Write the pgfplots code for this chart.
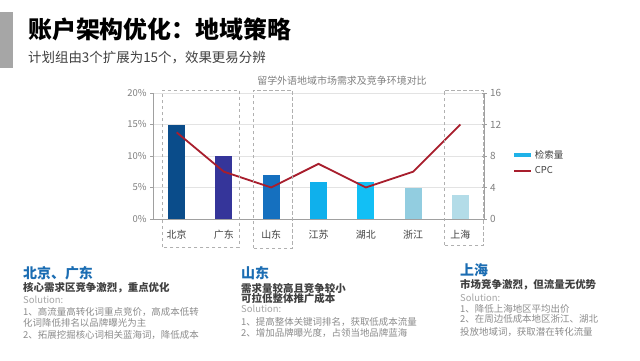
\documentclass[border=0pt]{standalone}
\usepackage{fontspec}
\setmainfont{Noto Sans CJK SC}
\usepackage{pgfplots}
\pgfplotsset{compat=1.18}
\definecolor{c1}{HTML}{0A4C8A}
\definecolor{c2}{HTML}{35359A}
\definecolor{c3}{HTML}{1570BF}
\definecolor{c4}{HTML}{0FB0EC}
\definecolor{c5}{HTML}{12BFF5}
\definecolor{c6}{HTML}{92CDE0}
\definecolor{c7}{HTML}{B3DCE8}
\definecolor{legblue}{HTML}{1FB2E8}
\definecolor{cpc}{HTML}{A81E2D}
\definecolor{hdgray}{HTML}{A6A6A6}
\definecolor{headblue}{HTML}{1B6DB3}
\definecolor{txtdark}{HTML}{404040}
\definecolor{txtgray}{HTML}{8C8C8C}
\definecolor{txtlight}{HTML}{A5A5A5}
\definecolor{axgray}{HTML}{A0A0A0}
\definecolor{boxgray}{HTML}{B0B0B0}
\begin{document}
\begin{tikzpicture}[x=1bp,y=1bp]
\path[use as bounding box, fill=white] (0,0) rectangle (640,360);
% header
\fill[hdgray] (0,292) rectangle (13,348);
\node[anchor=west, inner sep=0] at (28,331) {\fontsize{24}{24}\selectfont\bfseries 账户架构优化：地域策略};
\node[anchor=west, inner sep=0, text=txtdark] at (28,302) {\fontsize{13.5}{14}\selectfont 计划组由3个扩展为15个，效果更易分辨};
% chart title
\node[inner sep=0, text=gray] at (342,279) {\fontsize{10}{10}\selectfont 留学外语地域市场需求及竞争环境对比};

\begin{axis}[
  at={(153bp,141bp)}, anchor=south west, scale only axis,
  width=331bp, height=126bp,
  xmin=-0.5, xmax=6.5, ymin=0, ymax=20,
  axis x line*=bottom, axis y line*=left,
  axis line style={draw=axgray, line width=0.6bp},
  xtick={0,...,6}, xticklabels={北京,广东,山东,江苏,湖北,浙江,上海},
  x tick style={draw=none},
  ytick={0,5,10,15,20}, yticklabels={0\%,5\%,10\%,15\%,20\%},
  y tick style={draw=axgray, line width=0.6bp}, major tick length=3bp,
  tick align=outside,
  ymajorgrids, grid style={draw=gray!22, line width=0.5bp},
  yticklabel style={font=\fontsize{9.5}{10}\selectfont, text=gray},
  xticklabel style={font=\fontsize{10}{10}\selectfont, text=txtdark, yshift=-5bp},
  ybar, bar width=17bp, bar shift=0pt,
  /pgf/number format/assume math mode=true,
  clip=false,
]
\addplot[fill=c1, draw=none] coordinates {(0,14.9)};
\addplot[fill=c2, draw=none] coordinates {(1,10.0)};
\addplot[fill=c3, draw=none] coordinates {(2,7.0)};
\addplot[fill=c4, draw=none] coordinates {(3,5.8)};
\addplot[fill=c5, draw=none] coordinates {(4,5.8)};
\addplot[fill=c6, draw=none] coordinates {(5,4.9)};
\addplot[fill=c7, draw=none] coordinates {(6,3.8)};
\end{axis}

\begin{axis}[
  at={(153bp,141bp)}, anchor=south west, scale only axis,
  width=331bp, height=126bp,
  xmin=-0.5, xmax=6.5, ymin=0, ymax=16,
  axis y line*=right, axis x line=none,
  axis line style={draw=axgray, line width=0.6bp},
  ytick={0,4,8,12,16},
  y tick style={draw=axgray, line width=0.6bp}, major tick length=5bp,
  tick align=center,
  yticklabel style={font=\fontsize{10}{10}\selectfont, text=gray},
  /pgf/number format/assume math mode=true,
  legend style={at={(1.085,0.563)}, anchor=north west, draw=none, fill=none,
    font=\fontsize{9.5}{10}\selectfont, text=txtdark, row sep=3bp, inner sep=0pt},
  legend cell align=left,
  legend image code/.code={\draw[#1] (0bp,0bp) -- (17bp,0bp);},
  clip=false,
]
\addlegendimage{line width=3.5bp, color=legblue}
\addlegendentry{检索量}
\addplot[color=cpc, line width=1.8bp, mark=none] coordinates {(0,11) (1,6) (2,4) (3,7) (4,4) (5,6) (6,12)};
\addlegendentry{CPC}
\end{axis}

% dashed highlight boxes
\begin{scope}[draw=boxgray, line width=0.6bp, dash pattern=on 3.5bp off 2.5bp]
\draw (162.7,113) rectangle (239,270);
\draw (253,112) rectangle (292,270);
\draw (444,115) rectangle (483,270);
\end{scope}

% column 1
\node[anchor=west, inner sep=0, text=headblue] at (23,87) {\fontsize{14}{14}\selectfont\bfseries 北京、广东};
\node[anchor=west, inner sep=0, text=txtdark] at (23,72) {\fontsize{10.5}{11}\selectfont\bfseries 核心需求区竞争激烈，重点优化};
\node[anchor=west, inner sep=0, text=txtlight] at (23,60) {\fontsize{9.5}{10}\selectfont Solution:};
\node[anchor=west, inner sep=0, text=txtgray] at (23,48) {\fontsize{9.5}{10}\selectfont 1、高流量高转化词重点竞价，高成本低转};
\node[anchor=west, inner sep=0, text=txtgray] at (23,37) {\fontsize{9.5}{10}\selectfont 化词降低排名以品牌曝光为主};
\node[anchor=west, inner sep=0, text=txtgray] at (23,25) {\fontsize{9.5}{10}\selectfont 2、拓展挖掘核心词相关蓝海词，降低成本};
% column 2
\node[anchor=west, inner sep=0, text=headblue] at (241,87) {\fontsize{14}{14}\selectfont\bfseries 山东};
\node[anchor=west, inner sep=0, text=txtdark] at (241,72) {\fontsize{10.5}{11}\selectfont\bfseries 需求量较高且竞争较小};
\node[anchor=west, inner sep=0, text=txtdark] at (241,61.5) {\fontsize{10.5}{11}\selectfont\bfseries 可拉低整体推广成本};
\node[anchor=west, inner sep=0, text=txtlight] at (241,51) {\fontsize{9.5}{10}\selectfont Solution:};
\node[anchor=west, inner sep=0, text=txtgray] at (241,38) {\fontsize{9.5}{10}\selectfont 1、提高整体关键词排名，获取低成本流量};
\node[anchor=west, inner sep=0, text=txtgray] at (241,27) {\fontsize{9.5}{10}\selectfont 2、增加品牌曝光度，占领当地品牌蓝海};
% column 3
\node[anchor=west, inner sep=0, text=headblue] at (460,90) {\fontsize{14}{14}\selectfont\bfseries 上海};
\node[anchor=west, inner sep=0, text=txtdark] at (460,75) {\fontsize{10.5}{11}\selectfont\bfseries 市场竞争激烈，但流量无优势};
\node[anchor=west, inner sep=0, text=txtlight] at (460,62.5) {\fontsize{9.5}{10}\selectfont Solution:};
\node[anchor=west, inner sep=0, text=txtgray] at (460,51) {\fontsize{9.5}{10}\selectfont 1、降低上海地区平均出价};
\node[anchor=west, inner sep=0, text=txtgray] at (460,41) {\fontsize{9.5}{10}\selectfont 2、在周边低成本地区浙江、湖北};
\node[anchor=west, inner sep=0, text=txtgray] at (460,28) {\fontsize{9.5}{10}\selectfont 投放地域词，获取潜在转化流量};
\end{tikzpicture}
\end{document}
